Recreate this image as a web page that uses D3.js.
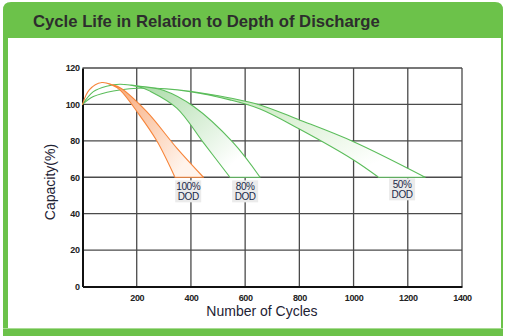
<!DOCTYPE html>
<html>
<head>
<meta charset="utf-8">
<script src="https://cdn.jsdelivr.net/npm/d3@7"></script>
<style>
body { margin: 0; background: #fff; }
svg { display: block; font-family: "Liberation Sans", Arial, sans-serif; }
</style>
</head>
<body>
<div id="chart"></div>
<script>
// axis ticks
var xTicks = [200, 400, 600, 800, 1000, 1200, 1400];
var yTicks = [0, 20, 40, 60, 80, 100, 120];

// curves: [cycles, capacity %]
var dod100Inner = [[0,100],[25,108],[71,112],[110,110.5],[138,108],[206,95],[274,80],[341,60]];
var dod100Outer = [[0,100],[25,108],[71,112],[110,110.8],[140,109],[237,96],[348,76],[446,60]];
var dod80Inner = [[0,100],[40,107],[89,110],[138,111.1],[212,109.5],[249,107.3],[348,98],[446,79],[544,60]];
var dod80Outer = [[0,100],[40,107],[89,110],[138,111.1],[212,110],[298,107.8],[409,99],[556,79],[655,60]];
var dod50Inner = [[0,100],[40,104.3],[114,107.4],[237,109],[397,107],[544,102.5],[655,97.5],[800,86.5],[1000,69.5],[1092,60]];
var dod50Outer = [[0,100],[40,104.3],[114,107.4],[237,109],[397,107.2],[544,103.5],[655,99.7],[800,91.5],[1000,79.5],[1264,60]];

var bandNames = ["100% DOD", "80% DOD", "50% DOD"];
var labelX = [390, 600, 1179];
var labelY = [58.3, 58.3, 59.4];

var width = 505, height = 336;
var green = "#6cc24a";

var svg = d3.select("#chart").append("svg")
	.attr("width", width)
	.attr("height", height);

// frame
svg.append("path")
	.attr("d", "M3,336 L3,10 Q3,2 11,2 L495,2 Q503,2 503,10 L503,336 Z")
	.attr("fill", green);
svg.append("rect")
	.attr("x", 8).attr("y", 38)
	.attr("width", 493).attr("height", 290)
	.attr("fill", "#fff");
svg.append("rect")
	.attr("x", 3).attr("y", 328)
	.attr("width", 500).attr("height", 1)
	.attr("fill", "#a9db94");

svg.append("text")
	.attr("x", 33)
	.attr("y", 27)
	.text("Cycle Life in Relation to Depth of Discharge")
	.attr("font-size", "16.7px")
	.attr("font-weight", "bold")
	.attr("fill", "#2d2d2d");

var x = d3.scaleLinear().domain([0, 1400]).range([82.5, 462]);
var y = d3.scaleLinear().domain([0, 120]).range([286.5, 68]);

// grid
svg.append("g").selectAll("line")
	.data(xTicks)
	.enter().append("line")
	.attr("x1", function(d) { return x(d); })
	.attr("x2", function(d) { return x(d); })
	.attr("y1", y(0))
	.attr("y2", y(120))
	.attr("stroke", "#4a4a4a")
	.attr("stroke-width", 1.3);
svg.append("g").selectAll("line")
	.data(yTicks.slice(1))
	.enter().append("line")
	.attr("x1", x(0))
	.attr("x2", x(1400))
	.attr("y1", function(d) { return y(d); })
	.attr("y2", function(d) { return y(d); })
	.attr("stroke", "#4a4a4a")
	.attr("stroke-width", 1.3);

// axes
var xAxis = svg.append("g")
	.attr("transform", "translate(0," + y(0) + ")")
	.call(d3.axisBottom(x).tickValues(xTicks).tickFormat(d3.format("d")).tickSize(0).tickPadding(8));
var yAxis = svg.append("g")
	.attr("transform", "translate(" + x(0) + ",0)")
	.call(d3.axisLeft(y).tickValues(yTicks).tickFormat(d3.format("d")).tickSize(0).tickPadding(3));
[xAxis, yAxis].forEach(function(a) {
	a.select(".domain").attr("stroke", "#111").attr("stroke-width", 2);
	a.selectAll("text")
		.attr("font-family", "'Liberation Sans', Arial, sans-serif")
		.attr("font-size", "9px")
		.attr("font-weight", "bold")
		.attr("letter-spacing", "-0.4px")
		.attr("fill", "#222");
});

svg.append("text")
	.attr("x", 262)
	.attr("y", 316)
	.attr("text-anchor", "middle")
	.text("Number of Cycles")
	.attr("font-size", "14px")
	.attr("fill", "#1e2233");
svg.append("text")
	.attr("transform", "translate(55,182) rotate(-90)")
	.attr("text-anchor", "middle")
	.text("Capacity(%)")
	.attr("font-size", "14px")
	.attr("fill", "#1e2233");

// gradients
var defs = svg.append("defs");
var gradColors = [["#f6955a", "#fff4ec"], ["#8fd08a", "#ffffff"], ["#a9dc99", "#ffffff"]];
gradColors.forEach(function(c, i) {
	var g = defs.append("linearGradient")
		.attr("id", "grad" + i)
		.attr("x1", 0).attr("y1", 0)
		.attr("x2", 1).attr("y2", 0.6);
	g.append("stop").attr("offset", "0%").attr("stop-color", c[0]);
	g.append("stop").attr("offset", "100%").attr("stop-color", c[1]);
});

var line = d3.line()
	.x(function(d) { return x(d[0]); })
	.y(function(d) { return y(d[1]); })
	.curve(d3.curveCatmullRom.alpha(0.5));

function bandPath(inner, outer) {
	var a = line(inner);
	var b = line(outer.slice().reverse());
	return a + "L" + b.slice(1) + "Z";
}

var bands = [
	[dod100Inner, dod100Outer, "#f7853a"],
	[dod80Inner, dod80Outer, "#5bbd5b"],
	[dod50Inner, dod50Outer, "#5bbd5b"]
];
// draw 50% first so others sit on top
[2, 1, 0].forEach(function(i) {
	svg.append("path")
		.attr("d", bandPath(bands[i][0], bands[i][1]))
		.attr("fill", "url(#grad" + i + ")")
		.attr("stroke", bands[i][2])
		.attr("stroke-width", 1.1)
		.attr("stroke-linejoin", "round");
});

// DOD labels
var labels = svg.append("g").selectAll("g")
	.data(bandNames)
	.enter().append("g")
	.attr("transform", function(d, i) { return "translate(" + x(labelX[i]) + "," + y(labelY[i]) + ")"; });
labels.append("rect")
	.attr("x", -13).attr("y", 0)
	.attr("width", 26).attr("height", 22)
	.attr("fill", "#ebebeb");
labels.append("text")
	.attr("y", 9.5)
	.attr("text-anchor", "middle")
	.text(function(d) { return d.split(" ")[0]; })
	.attr("font-size", "10px")
	.attr("letter-spacing", "-0.4px")
	.attr("fill", "#1b2a4a");
labels.append("text")
	.attr("y", 19.5)
	.attr("text-anchor", "middle")
	.text(function(d) { return d.split(" ")[1]; })
	.attr("font-size", "10px")
	.attr("letter-spacing", "-0.4px")
	.attr("fill", "#1b2a4a");
</script>
</body>
</html>
